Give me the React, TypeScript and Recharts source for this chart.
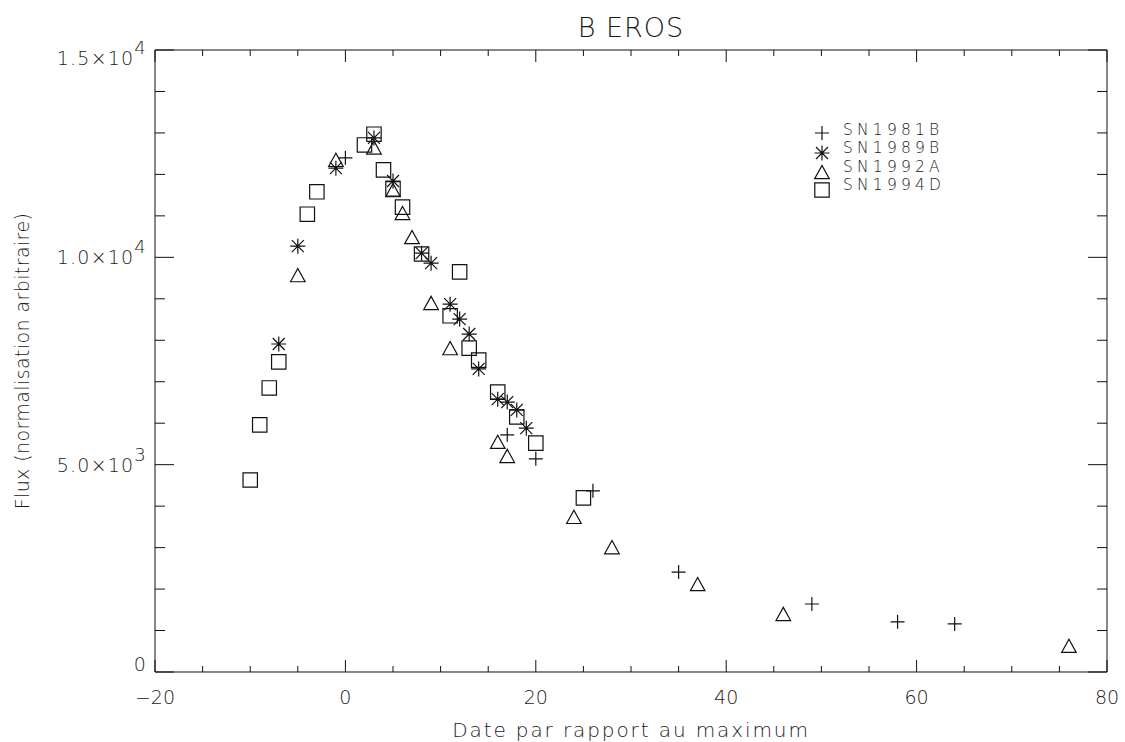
import React from 'react';
import { ScatterChart, Scatter, XAxis, YAxis, Legend, Label, ReferenceLine } from 'recharts';

// ---------- data ----------
const seriesNames = ['SN1981B', 'SN1989B', 'SN1992A', 'SN1994D'];

const sn1981bDays = [0, 17, 20, 26, 35, 49, 58, 64];
const sn1981bFlux = [12400, 5720, 5140, 4370, 2410, 1640, 1210, 1160];

const sn1989bDays = [-7, -5, -1, 3, 5, 8, 9, 11, 12, 13, 14, 16, 17, 18, 19];
const sn1989bFlux = [7910, 10270, 12150, 12880, 11840, 10100, 9860, 8870, 8510, 8150, 7310, 6580, 6510, 6320, 5880];

const sn1992aDays = [-5, -1, 3, 5, 6, 7, 9, 11, 16, 17, 24, 28, 37, 46, 76];
const sn1992aFlux = [9570, 12350, 12650, 11620, 11070, 10490, 8900, 7810, 5550, 5210, 3740, 3010, 2120, 1400, 630];

const sn1994dDays = [-10, -9, -8, -7, -4, -3, 2, 3, 4, 5, 6, 8, 11, 12, 13, 14, 16, 18, 20, 25];
const sn1994dFlux = [4630, 5960, 6850, 7480, 11040, 11580, 12710, 12970, 12110, 11650, 11210, 10080, 8590, 9650, 7810, 7520, 6750, 6150, 5520, 4200];

const xMajorTicks = [-20, 0, 20, 40, 60, 80];
const xTickLabels = ['\u221220', '0', '20', '40', '60', '80'];
const xMinorTicks = [-15, -10, -5, 5, 10, 15, 25, 30, 35, 45, 50, 55, 65, 70, 75];

const yMajorTicks = [0, 5000, 10000, 15000];
const yTickMantissas = ['0', '5.0\u00d710', '1.0\u00d710', '1.5\u00d710'];
const yTickExponents = ['', '3', '4', '4'];
const yMinorTicks = [1000, 2000, 3000, 4000, 6000, 7000, 8000, 9000, 11000, 12000, 13000, 14000];

const chartTitle = 'B EROS';
const xAxisTitle = 'Date par rapport au maximum';
const yAxisTitle = 'Flux (normalisation arbitraire)';

// ---------- style ----------
const FONT = '"DejaVu Sans", sans-serif';
const INK = '#111';
const TEXT = '#1a1a1a';
const SW = 1.2;
const yLabelDy = [-1, 7, 7, 15];
const THIN = 0.01;

const X_DOMAIN: [number, number] = [-20, 80];
const Y_DOMAIN: [number, number] = [0, 15000];
const PLOT_HEIGHT_PX = 622;
const pxToFlux = (px: number) => (px * (Y_DOMAIN[1] - Y_DOMAIN[0])) / PLOT_HEIGHT_PX;
const X_MAJOR_LEN = pxToFlux(12);
const X_MINOR_LEN = pxToFlux(6);

const toPoints = (xs: number[], ys: number[]) => xs.map((x, i) => ({ x, y: ys[i] }));

const plusPath = (cx: number, cy: number) => {
  const r = 7;
  return `M${cx - r},${cy}H${cx + r}M${cx},${cy - r}V${cy + r}`;
};
const asteriskPath = (cx: number, cy: number) => {
  const r = 7.5;
  const d = 6;
  return `M${cx - r},${cy}H${cx + r}M${cx},${cy - r}V${cy + r}M${cx - d},${cy - d}L${cx + d},${cy + d}M${cx - d},${cy + d}L${cx + d},${cy - d}`;
};
const trianglePath = (cx: number, cy: number) => {
  const r = 7.3;
  const h = 6.6;
  return `M${cx - r},${cy + h}L${cx},${cy - h}L${cx + r},${cy + h}Z`;
};
const squarePath = (cx: number, cy: number) => {
  const r = 7.2;
  return `M${cx - r},${cy - r}H${cx + r}V${cy + r}H${cx - r}Z`;
};
const markerPaths = [plusPath, asteriskPath, trianglePath, squarePath];

const makeShape = (fn: (cx: number, cy: number) => string) => (props: any) => (
  <path d={fn(props.cx, props.cy)} fill="none" stroke={INK} strokeWidth={SW} />
);

const EmptyTick = () => <g />;

const XTick = (props: any) => {
  const { x, payload } = props;
  const i = xMajorTicks.indexOf(payload.value);
  return (
    <text x={x} y={704} textAnchor="middle" fontFamily={FONT} fontWeight={200} fontSize={19} fill={TEXT}>
      {xTickLabels[i]}
    </text>
  );
};

const YTick = (props: any) => {
  const { y, payload } = props;
  const i = yMajorTicks.indexOf(payload.value);
  const exp = yTickExponents[i];
  return (
    <text x={147} y={y + yLabelDy[i]} textAnchor="end" fontFamily={FONT} fontWeight={200} fontSize={19} fill={TEXT} letterSpacing={1.2}>
      {yTickMantissas[i]}
      {exp ? (
        <tspan dy={-11} fontSize={18}>
          {exp}
        </tspan>
      ) : null}
    </text>
  );
};

const TitleLabel = (props: any) => {
  const vb = props.viewBox || {};
  return (
    <text x={vb.x + vb.width / 2} y={37} textAnchor="middle" fontFamily={FONT} fontWeight={200} fontSize={27} fill={TEXT} letterSpacing={1}>
      {chartTitle}
    </text>
  );
};

const XTitleLabel = (props: any) => {
  const vb = props.viewBox || {};
  return (
    <text x={vb.x + vb.width / 2} y={737} textAnchor="middle" fontFamily={FONT} fontWeight={200} fontSize={20} fill={TEXT} letterSpacing={1.9}>
      {xAxisTitle}
    </text>
  );
};

const YTitleLabel = (props: any) => {
  const vb = props.viewBox || {};
  const cy = vb.y + vb.height / 2;
  return (
    <text x={29} y={cy} transform={`rotate(-90 29 ${cy})`} textAnchor="middle" fontFamily={FONT} fontWeight={200} fontSize={19} fill={TEXT} letterSpacing={0.4}>
      {yAxisTitle}
    </text>
  );
};

const LegendContent = () => {
  const symbolY = [15, 35, 54, 72];
  const textY = [17, 35.3, 53.6, 71.9];
  return (
    <svg width={160} height={90} style={{ display: 'block', overflow: 'visible' }}>
      {seriesNames.map((name, i) => (
        <g key={name}>
          <path d={markerPaths[i](10, symbolY[i])} fill="none" stroke={INK} strokeWidth={SW} />
          <text x={31} y={textY[i]} fontFamily={FONT} fontWeight={200} fontSize={15.5} fill={TEXT} letterSpacing={4.2}>
            {name}
          </text>
        </g>
      ))}
    </svg>
  );
};

const series = [
  toPoints(sn1981bDays, sn1981bFlux),
  toPoints(sn1989bDays, sn1989bFlux),
  toPoints(sn1992aDays, sn1992aFlux),
  toPoints(sn1994dDays, sn1994dFlux),
];

const axisLine = { stroke: INK, strokeWidth: 1 };
const tickLine = { stroke: INK, strokeWidth: 1 };

// x-axis inward ticks (bottom and top), as segments in data space
const xTickSegments = [
  ...xMajorTicks.map((v) => ({ v, len: X_MAJOR_LEN })),
  ...xMinorTicks.map((v) => ({ v, len: X_MINOR_LEN })),
].flatMap((t) => [
  { key: `b${t.v}`, seg: [{ x: t.v, y: Y_DOMAIN[0] }, { x: t.v, y: Y_DOMAIN[0] + t.len }] },
  { key: `t${t.v}`, seg: [{ x: t.v, y: Y_DOMAIN[1] - t.len }, { x: t.v, y: Y_DOMAIN[1] }] },
]);

// inward tick axes for y (mirrored)
const yTickAxes = [
  { id: 'lMaj', orientation: 'left', ticks: yMajorTicks, size: 19, line: false },
  { id: 'lMin', orientation: 'left', ticks: yMinorTicks, size: 10, line: false },
  { id: 'rMaj', orientation: 'right', ticks: yMajorTicks, size: 19, line: true },
  { id: 'rMin', orientation: 'right', ticks: yMinorTicks, size: 10, line: false },
];

export default function App() {
  return (
    <div style={{ position: 'absolute', left: 0, top: 0, width: 1125, height: 742, background: '#fff' }}>
      <ScatterChart width={1125} height={742} margin={{ top: 50, right: 18, bottom: 70, left: 155 }}>
        <XAxis
          xAxisId="main"
          type="number"
          dataKey="x"
          domain={X_DOMAIN}
          allowDataOverflow
          ticks={xMajorTicks}
          interval={0}
          height={THIN}
          orientation="bottom"
          tickSize={0}
          tickMargin={32}
          tickLine={false}
          axisLine={axisLine}
          tick={<XTick />}
        >
          <Label content={<XTitleLabel />} />
        </XAxis>
        <XAxis
          xAxisId="top"
          type="number"
          domain={X_DOMAIN}
          allowDataOverflow
          ticks={xMajorTicks}
          interval={0}
          height={THIN}
          orientation="top"
          tickLine={false}
          axisLine={axisLine}
          tick={<EmptyTick />}
        >
          <Label content={<TitleLabel />} />
        </XAxis>
        <YAxis
          yAxisId="main"
          type="number"
          dataKey="y"
          domain={Y_DOMAIN}
          allowDataOverflow
          ticks={yMajorTicks}
          interval={0}
          width={THIN}
          orientation="left"
          tickSize={0}
          tickMargin={8}
          tickLine={false}
          axisLine={axisLine}
          tick={<YTick />}
        >
          <Label content={<YTitleLabel />} />
        </YAxis>
        {yTickAxes.map((a) => (
          <YAxis
            key={a.id}
            yAxisId={a.id}
            type="number"
            domain={Y_DOMAIN}
            allowDataOverflow
            ticks={a.ticks}
            interval={0}
            width={THIN}
            orientation={a.orientation as any}
            mirror
            tickSize={a.size}
            tickLine={tickLine}
            axisLine={a.line ? axisLine : false}
            tick={<EmptyTick />}
          />
        ))}
        {xTickSegments.map((t) => (
          <ReferenceLine
            key={t.key}
            xAxisId="main"
            yAxisId="main"
            segment={t.seg}
            stroke={INK}
            strokeWidth={1}
            ifOverflow="visible"
          />
        ))}
        {series.map((data, i) => (
          <Scatter
            key={seriesNames[i]}
            name={seriesNames[i]}
            data={data}
            dataKey="y"
            xAxisId="main"
            yAxisId="main"
            shape={makeShape(markerPaths[i])}
            isAnimationActive={false}
          />
        ))}
        <Legend
          layout="horizontal"
          verticalAlign="middle"
          align="center"
          content={<LegendContent />}
          wrapperStyle={{ left: 812, top: 118, width: 160, height: 90 }}
        />
      </ScatterChart>
    </div>
  );
}
